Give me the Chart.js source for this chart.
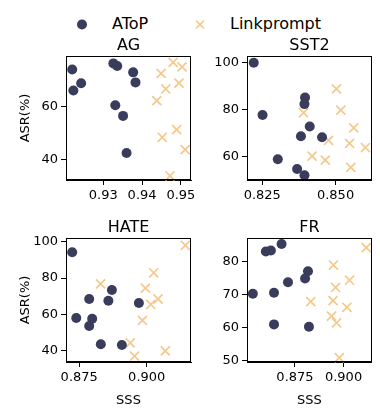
<!DOCTYPE html>
<html>
<head>
<meta charset="utf-8">
<script src="https://cdn.jsdelivr.net/npm/chart.js@4.4.1/dist/chart.umd.min.js"></script>
<style>
  html, body { margin: 0; padding: 0; background: #fff; }
  #wrap { position: relative; width: 380px; height: 416px; overflow: hidden; font-family: "DejaVu Sans", sans-serif; }
  #wrap canvas { position: absolute; left: 0; top: 0; }
  .lg { position: absolute; font-size: 16px; line-height: 16px; color: #000; white-space: nowrap; }
</style>
</head>
<body>
<div id="wrap">
  <svg style="position:absolute;left:0;top:0" width="380" height="40">
    <circle cx="82" cy="24.5" r="5" fill="#3a3c5b"></circle>
    <line x1="196" y1="20.5" x2="204" y2="28.5" stroke="#f5c88c" stroke-width="1.7"></line>
    <line x1="196" y1="28.5" x2="204" y2="20.5" stroke="#f5c88c" stroke-width="1.7"></line>
  </svg>
  <div class="lg" style="left:112px;top:16px">AToP</div>
  <div class="lg" style="left:230px;top:16px">Linkprompt</div>
  <canvas id="c1" width="380" height="416"></canvas>
  <canvas id="c2" width="380" height="416"></canvas>
  <canvas id="c3" width="380" height="416"></canvas>
  <canvas id="c4" width="380" height="416"></canvas>
</div>
<script>
// ---------- data ----------
const seriesNames = ["AToP", "Linkprompt"];
const panelTitles = ["AG", "SST2", "HATE", "FR"];

// AG
const agAtopX = [0.9220, 0.9223, 0.9243, 0.9326, 0.9336, 0.9377, 0.9383, 0.9331, 0.9351, 0.9360];
const agAtopY = [74.0, 66.0, 68.8, 76.3, 75.3, 72.9, 69.1, 60.4, 56.4, 42.3];
const agLinkX = [0.9480, 0.9503, 0.9449, 0.9495, 0.9461, 0.9438, 0.9489, 0.9452, 0.9511, 0.9472];
const agLinkY = [76.7, 75.0, 72.5, 68.8, 66.6, 62.2, 51.2, 48.3, 43.6, 33.7];

// SST2
const sstAtopX = [0.8221, 0.8251, 0.8303, 0.8396, 0.8394, 0.8412, 0.8382, 0.8454, 0.8369, 0.8394];
const sstAtopY = [100.0, 77.6, 58.7, 85.1, 82.3, 72.7, 68.5, 68.1, 54.5, 51.8];
const sstLinkX = [0.8503, 0.8518, 0.8391, 0.8562, 0.8476, 0.8548, 0.8602, 0.8420, 0.8465, 0.8552];
const sstLinkY = [88.8, 79.7, 78.6, 72.1, 66.8, 65.5, 63.7, 60.0, 58.3, 55.2];

// HATE
const hateAtopX = [0.8724, 0.8739, 0.8787, 0.8798, 0.8787, 0.8871, 0.8858, 0.8830, 0.8908, 0.8971];
const hateAtopY = [94.2, 58.1, 68.5, 57.7, 53.7, 73.4, 67.5, 43.6, 43.2, 66.3];
const hateLinkX = [0.9143, 0.9026, 0.8829, 0.8995, 0.9042, 0.9015, 0.8984, 0.8939, 0.8955, 0.9069];
const hateLinkY = [98.0, 82.9, 76.8, 74.5, 68.5, 65.5, 56.8, 44.4, 37.1, 40.0];

// FR
const frAtopX = [0.8533, 0.8600, 0.8626, 0.8681, 0.8642, 0.8714, 0.8802, 0.8817, 0.8642, 0.8822];
const frAtopY = [70.3, 83.1, 83.4, 85.4, 70.6, 73.8, 74.9, 77.1, 61.0, 60.3];
const frLinkX = [0.9117, 0.8948, 0.9031, 0.8959, 0.8831, 0.8946, 0.9017, 0.8938, 0.8964, 0.8978];
const frLinkY = [84.3, 79.0, 74.4, 72.2, 67.9, 68.2, 66.2, 63.5, 61.5, 50.9];

// tick values
const agXTicks = [0.93, 0.94, 0.95];
const agYTicks = [40, 60];
const sstXTicks = [0.825, 0.850];
const sstYTicks = [60, 80, 100];
const hateXTicks = [0.875, 0.900];
const hateYTicks = [40, 60, 80, 100];
const frXTicks = [0.875, 0.900];
const frYTicks = [50, 60, 70, 80];

const xTitle = "SSS";
const yTitle = "ASR(%)";

// ---------- styling ----------
const atopColor = "#3a3c5b";
const linkColor = "#f5c88c";
const FONT = "DejaVu Sans";

function pts(xs, ys) { return xs.map((x, i) => ({ x: x, y: ys[i] })); }

const framePlugin = {
  id: 'frameTitle',
  afterDraw(chart, args, opts) {
    const a = chart.chartArea, ctx = chart.ctx;
    ctx.save();
    ctx.strokeStyle = '#000';
    ctx.lineWidth = 1;
    ctx.strokeRect(Math.round(a.left) + 0.5, Math.round(a.top) + 0.5,
                   Math.round(a.right - a.left) - 1, Math.round(a.bottom - a.top) - 1);
    ctx.fillStyle = '#000';
    ctx.font = '16px "' + FONT + '"';
    ctx.textAlign = 'center';
    ctx.textBaseline = 'alphabetic';
    ctx.fillText(opts.text, (a.left + a.right) / 2, a.top - 6.5);
    ctx.restore();
  }
};

function makeChart(id, cfg) {
  const tickFont = { family: FONT, size: 13 };
  const xScale = {
    type: 'linear', min: cfg.xr[0], max: cfg.xr[1],
    afterBuildTicks: s => { s.ticks = cfg.xt.map(v => ({ value: v })); },
    afterFit: s => { s.height = cfg.xh; },
    ticks: { font: tickFont, color: '#000', padding: 3, maxRotation: 0, autoSkip: false,
             callback: v => v.toFixed(cfg.xd) },
    grid: { drawOnChartArea: false, drawTicks: true, tickLength: 5, color: '#000', lineWidth: 1 },
    border: { display: true, color: '#000', width: 1 },
    title: { display: !!cfg.xTitle, text: cfg.xTitle || '', font: tickFont, color: '#000', padding: 0 }
  };
  const yScale = {
    type: 'linear', min: cfg.yr[0], max: cfg.yr[1],
    afterBuildTicks: s => { s.ticks = cfg.yt.map(v => ({ value: v })); },
    afterFit: s => { s.width = cfg.yw; },
    ticks: { font: tickFont, color: '#000', padding: 3, autoSkip: false,
             callback: v => String(v) },
    grid: { drawOnChartArea: false, drawTicks: true, tickLength: 5, color: '#000', lineWidth: 1 },
    border: { display: true, color: '#000', width: 1 },
    title: { display: !!cfg.yTitle, text: cfg.yTitle || '', font: tickFont, color: '#000', padding: 0 }
  };
  return new Chart(document.getElementById(id), {
    type: 'scatter',
    data: {
      datasets: [
        { label: seriesNames[0], data: pts(cfg.ax, cfg.ay), pointStyle: 'circle', pointRadius: 5,
          backgroundColor: atopColor, borderColor: atopColor, borderWidth: 0, pointHoverRadius: 5 },
        { label: seriesNames[1], data: pts(cfg.lx, cfg.ly), pointStyle: 'crossRot', pointRadius: 6.4,
          backgroundColor: linkColor, borderColor: linkColor, borderWidth: 1.7, pointHoverRadius: 6.4 }
      ]
    },
    options: {
      responsive: false, animation: false, devicePixelRatio: 1,
      clip: false,
      layout: { padding: cfg.pad },
      plugins: { legend: { display: false }, tooltip: { enabled: false }, frameTitle: { text: cfg.title } },
      scales: { x: xScale, y: yScale }
    },
    plugins: [framePlugin]
  });
}

// Chart areas: AG/HATE left 66..191, SST2/FR left 247..372; top row 56..180, bottom row 238..362
makeChart('c1', {
  title: panelTitles[0], ax: agAtopX, ay: agAtopY, lx: agLinkX, ly: agLinkY,
  xr: [0.9204, 0.9526], yr: [32.1, 79.1], xt: agXTicks, yt: agYTicks, xd: 2,
  yTitle: yTitle, yw: 48, xh: 24,
  pad: { left: 18, right: 380 - 191, top: 56, bottom: 416 - 180 - 24 }
});
makeChart('c2', {
  title: panelTitles[1], ax: sstAtopX, ay: sstAtopY, lx: sstLinkX, ly: sstLinkY,
  xr: [0.8198, 0.8624], yr: [49.8, 102.9], xt: sstXTicks, yt: sstYTicks, xd: 3,
  yw: 40, xh: 24,
  pad: { left: 247 - 40, right: 380 - 372, top: 56, bottom: 416 - 180 - 24 }
});
makeChart('c3', {
  title: panelTitles[2], ax: hateAtopX, ay: hateAtopY, lx: hateLinkX, ly: hateLinkY,
  xr: [0.8701, 0.9164], yr: [33.9, 102.0], xt: hateXTicks, yt: hateYTicks, xd: 3,
  yTitle: yTitle, xTitle: xTitle, yw: 48, xh: 46,
  pad: { left: 18, right: 380 - 191, top: 238, bottom: 416 - 362 - 46 }
});
makeChart('c4', {
  title: panelTitles[3], ax: frAtopX, ay: frAtopY, lx: frLinkX, ly: frLinkY,
  xr: [0.8503, 0.9146], yr: [49.6, 87.2], xt: frXTicks, yt: frYTicks, xd: 3,
  xTitle: xTitle, yw: 40, xh: 46,
  pad: { left: 247 - 40, right: 380 - 372, top: 238, bottom: 416 - 362 - 46 }
});
</script>
</body>
</html>
